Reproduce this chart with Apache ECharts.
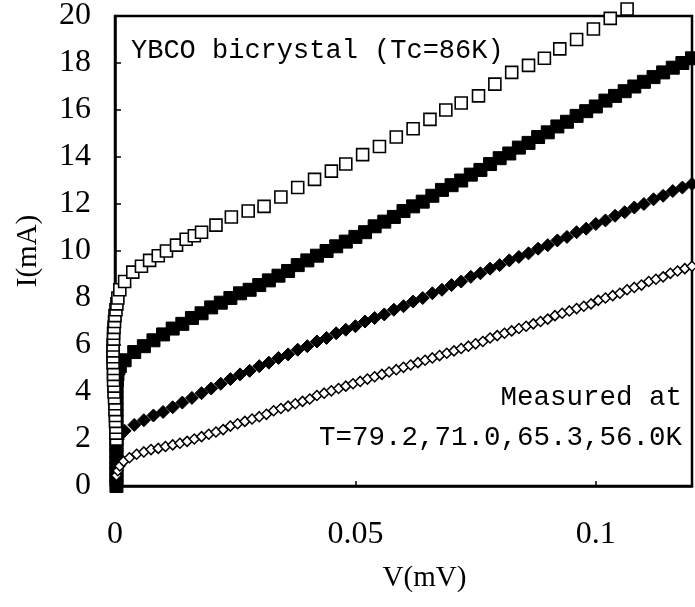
<!DOCTYPE html>
<html>
<head>
<meta charset="utf-8">
<script src="https://cdn.jsdelivr.net/npm/echarts@6/dist/echarts.min.js"></script>
<style>
  html, body { margin: 0; padding: 0; background: #fff; }
  #chart { width: 695px; height: 607px; }
</style>
</head>
<body>
<div id="chart"></div>
<script>
// x = V (mV), y = I (mA)
const xTicks = [0, 0.05, 0.1];

// open squares (top curve)
const openSquares = [
  [0.0003, 2.0], [0.0002, 2.25], [0.0002, 2.5], [0.0001, 2.75], [0.0001, 3.0], [0.0000, 3.25],
  [0.0000, 3.5], [-0.0001, 3.75], [-0.0002, 4.0], [-0.0002, 4.25], [-0.0003, 4.5], [-0.0003, 4.75],
  [-0.0003, 5.0], [-0.0004, 5.25], [-0.0004, 5.5], [-0.0004, 5.75], [-0.0004, 6.0], [-0.0003, 6.25],
  [-0.0003, 6.5], [-0.0002, 6.75], [-0.0001, 7.0], [0.0000, 7.25], [0.0002, 7.5], [0.0004, 7.75],
  [0.0006, 8.0], [0.0010, 8.35], [0.0020, 8.7], [0.0037, 9.1], [0.0055, 9.35], [0.0072, 9.6],
  [0.0090, 9.8], [0.0107, 10.0], [0.0128, 10.25], [0.0148, 10.5], [0.0165, 10.65], [0.0180, 10.8],
  [0.0210, 11.1], [0.0242, 11.45], [0.0277, 11.7], [0.0310, 11.9], [0.0345, 12.3], [0.0380, 12.7],
  [0.0415, 13.05], [0.0450, 13.4], [0.0480, 13.7], [0.0515, 14.1], [0.0550, 14.45], [0.0585, 14.85],
  [0.0620, 15.2], [0.0655, 15.6], [0.0688, 16.0], [0.0720, 16.3], [0.0756, 16.6], [0.0790, 17.1],
  [0.0825, 17.6], [0.0860, 17.9], [0.0893, 18.2], [0.0925, 18.6], [0.0960, 19.0], [0.0995, 19.45],
  [0.1030, 19.9], [0.1065, 20.3]
];

// filled squares
const filledSquares = [
  [0.0003, 0.0], [0.0003, 0.25], [0.0003, 0.5], [0.0003, 0.75], [0.0003, 1.0], [0.0003, 1.25],
  [0.0003, 1.5], [0.0003, 1.75], [0.0003, 2.0], [0.0003, 2.25], [0.0003, 2.5], [0.0003, 2.75],
  [0.0003, 3.0], [0.0003, 3.25], [0.0003, 3.5], [0.0003, 3.75], [0.0003, 4.0], [0.0003, 4.25],
  [0.0004, 4.5], [0.0005, 4.75], [0.0007, 5.0], [0.0010, 5.1], [0.0020, 5.35], [0.0040, 5.7],
  [0.0060, 5.95], [0.0080, 6.2], [0.0100, 6.45], [0.0120, 6.7], [0.0140, 6.9], [0.0160, 7.15],
  [0.0180, 7.35], [0.0200, 7.6], [0.0220, 7.8], [0.0240, 8.0], [0.0260, 8.2], [0.0280, 8.35],
  [0.0300, 8.55], [0.0320, 8.75], [0.0340, 8.95], [0.0360, 9.15], [0.0380, 9.4], [0.0400, 9.6],
  [0.0420, 9.8], [0.0440, 10.0], [0.0460, 10.2], [0.0480, 10.4], [0.0500, 10.6], [0.0520, 10.8],
  [0.0540, 11.05], [0.0560, 11.25], [0.0580, 11.45], [0.0600, 11.7], [0.0620, 11.9], [0.0640, 12.1],
  [0.0660, 12.35], [0.0680, 12.6], [0.0700, 12.8], [0.0720, 13.0], [0.0740, 13.25], [0.0760, 13.45],
  [0.0780, 13.7], [0.0800, 13.95], [0.0820, 14.15], [0.0840, 14.4], [0.0860, 14.6], [0.0880, 14.85],
  [0.0900, 15.05], [0.0920, 15.3], [0.0940, 15.5], [0.0960, 15.75], [0.0980, 15.95], [0.1000, 16.15],
  [0.1020, 16.4], [0.1040, 16.6], [0.1060, 16.8], [0.1080, 17.0], [0.1100, 17.2], [0.1120, 17.4],
  [0.1140, 17.6], [0.1160, 17.8], [0.1180, 18.0], [0.1200, 18.2]
];

// filled diamonds
const filledDiamonds = [
  [0.0003, 0.0], [0.0003, 0.2], [0.0003, 0.4], [0.0003, 0.6], [0.0003, 0.8], [0.0003, 1.0],
  [0.0003, 1.2], [0.0003, 1.4], [0.0003, 1.6], [0.0004, 1.8], [0.0006, 2.0], [0.0010, 2.15],
  [0.0020, 2.35], [0.0040, 2.6], [0.0060, 2.8], [0.0080, 3.0], [0.0100, 3.15], [0.0120, 3.35],
  [0.0140, 3.55], [0.0160, 3.75], [0.0180, 3.95], [0.0200, 4.15], [0.0220, 4.35], [0.0240, 4.55],
  [0.0260, 4.75], [0.0280, 4.9], [0.0300, 5.1], [0.0320, 5.25], [0.0340, 5.45], [0.0360, 5.6],
  [0.0380, 5.8], [0.0400, 5.95], [0.0420, 6.15], [0.0440, 6.3], [0.0460, 6.5], [0.0480, 6.65],
  [0.0500, 6.8], [0.0520, 7.0], [0.0540, 7.15], [0.0560, 7.3], [0.0580, 7.5], [0.0600, 7.65],
  [0.0620, 7.85], [0.0640, 8.0], [0.0660, 8.2], [0.0680, 8.35], [0.0700, 8.55], [0.0720, 8.7],
  [0.0740, 8.9], [0.0760, 9.05], [0.0780, 9.25], [0.0800, 9.4], [0.0820, 9.6], [0.0840, 9.75],
  [0.0860, 9.9], [0.0880, 10.1], [0.0900, 10.25], [0.0920, 10.45], [0.0940, 10.6], [0.0960, 10.8],
  [0.0980, 10.95], [0.1000, 11.15], [0.1020, 11.3], [0.1040, 11.5], [0.1060, 11.65], [0.1080, 11.85],
  [0.1100, 12.0], [0.1120, 12.2], [0.1140, 12.35], [0.1160, 12.55], [0.1180, 12.7], [0.1200, 12.85]
];

// open diamonds (bottom curve)
const openDiamonds = [
  [0.0003, 0.45], [0.0006, 0.65], [0.0010, 0.85], [0.0018, 1.05], [0.0030, 1.2], [0.0045, 1.35],
  [0.0060, 1.45], [0.0075, 1.55], [0.0090, 1.6], [0.0105, 1.68], [0.0120, 1.75], [0.0135, 1.82],
  [0.0150, 1.9], [0.0165, 2.0], [0.0180, 2.1], [0.0195, 2.2], [0.0210, 2.3], [0.0225, 2.4],
  [0.0240, 2.55], [0.0255, 2.65], [0.0270, 2.75], [0.0285, 2.85], [0.0300, 2.95], [0.0315, 3.05],
  [0.0330, 3.2], [0.0345, 3.3], [0.0360, 3.4], [0.0375, 3.5], [0.0390, 3.6], [0.0405, 3.7],
  [0.0420, 3.85], [0.0435, 3.95], [0.0450, 4.05], [0.0465, 4.15], [0.0480, 4.25], [0.0495, 4.35],
  [0.0510, 4.45], [0.0525, 4.55], [0.0540, 4.65], [0.0555, 4.75], [0.0570, 4.85], [0.0585, 4.95],
  [0.0600, 5.05], [0.0615, 5.15], [0.0630, 5.25], [0.0645, 5.35], [0.0660, 5.45], [0.0675, 5.55],
  [0.0690, 5.65], [0.0705, 5.75], [0.0720, 5.85], [0.0735, 5.95], [0.0750, 6.05], [0.0765, 6.15],
  [0.0780, 6.3], [0.0795, 6.4], [0.0810, 6.5], [0.0825, 6.6], [0.0840, 6.7], [0.0855, 6.8],
  [0.0870, 6.9], [0.0885, 7.0], [0.0900, 7.1], [0.0915, 7.25], [0.0930, 7.35], [0.0945, 7.45],
  [0.0960, 7.55], [0.0975, 7.65], [0.0990, 7.75], [0.1005, 7.9], [0.1020, 8.0], [0.1035, 8.1],
  [0.1050, 8.2], [0.1065, 8.35], [0.1080, 8.45], [0.1095, 8.55], [0.1110, 8.7], [0.1125, 8.8],
  [0.1140, 8.9], [0.1155, 9.05], [0.1170, 9.15], [0.1185, 9.25], [0.1200, 9.35]
];

const serif = '"Liberation Serif", "DejaVu Serif", serif';
const mono = '"Liberation Mono", "DejaVu Sans Mono", monospace';

const chart = echarts.init(document.getElementById('chart'), null, { renderer: 'canvas' });

const option = {
  backgroundColor: '#fff',
  animation: false,
  grid: {
    left: 115, right: -4, top: 10, bottom: 121,
    show: true, borderColor: '#000', borderWidth: 2.5, backgroundColor: 'transparent'
  },
  xAxis: {
    type: 'value',
    min: 0, max: 0.12, interval: 0.05,
    name: 'V(mV)',
    nameLocation: 'middle',
    nameGap: 78,
    nameTextStyle: { fontFamily: serif, fontSize: 29, color: '#000', padding: [0, 0, 0, 42] },
    axisLine: { show: true, onZero: false, lineStyle: { color: '#000', width: 2.5 } },
    axisTick: { show: true, inside: true, length: 5, lineStyle: { color: '#000', width: 1.5 } },
    axisLabel: {
      margin: 33, fontFamily: serif, fontSize: 32, color: '#000',
      formatter: v => (xTicks.some(t => Math.abs(t - v) < 1e-9) ? String(v) : '')
    },
    splitLine: { show: false }
  },
  yAxis: {
    type: 'value',
    min: 0, max: 20, interval: 2,
    name: 'I(mA)',
    nameLocation: 'middle',
    nameRotate: 90,
    nameGap: 72,
    nameTextStyle: { fontFamily: serif, fontSize: 29, color: '#000' },
    axisLine: { show: true, lineStyle: { color: '#000', width: 2.5 } },
    axisTick: { show: true, inside: true, length: 6, lineStyle: { color: '#000', width: 1.5 } },
    axisLabel: { margin: 24, fontFamily: serif, fontSize: 32, color: '#000' },
    splitLine: { show: false }
  },
  graphic: [
    {
      type: 'text', x: 131, y: 51,
      style: { text: 'YBCO bicrystal (Tc=86K)', font: '27px ' + mono, fill: '#000', align: 'left', verticalAlign: 'middle' }
    },
    {
      type: 'text', x: 682, y: 398,
      style: { text: 'Measured at', font: '27.5px ' + mono, fill: '#000', align: 'right', verticalAlign: 'middle' }
    },
    {
      type: 'text', x: 682, y: 438,
      style: { text: 'T=79.2,71.0,65.3,56.0K', font: '27.5px ' + mono, fill: '#000', align: 'right', verticalAlign: 'middle' }
    }
  ],
  series: [
    {
      name: 'filled squares', type: 'scatter', data: filledSquares, clip: false,
      symbol: 'rect', symbolSize: 13,
      itemStyle: { color: '#000', borderColor: '#000', borderWidth: 1, opacity: 1 }
    },
    {
      name: 'filled diamonds', type: 'scatter', data: filledDiamonds, clip: false,
      symbol: 'diamond', symbolSize: 13,
      itemStyle: { color: '#000', borderColor: '#000', borderWidth: 1, opacity: 1 }
    },
    {
      name: 'open diamonds', type: 'scatter', data: openDiamonds, clip: false,
      symbol: 'diamond', symbolSize: 10,
      itemStyle: { color: '#fff', borderColor: '#000', borderWidth: 1.5, opacity: 1 }
    },
    {
      name: 'open squares', type: 'scatter', data: openSquares, clip: false,
      symbol: 'rect', symbolSize: 12,
      itemStyle: { color: '#fff', borderColor: '#000', borderWidth: 1.6, opacity: 1 }
    }
  ]
};

chart.setOption(option);
</script>
</body>
</html>
